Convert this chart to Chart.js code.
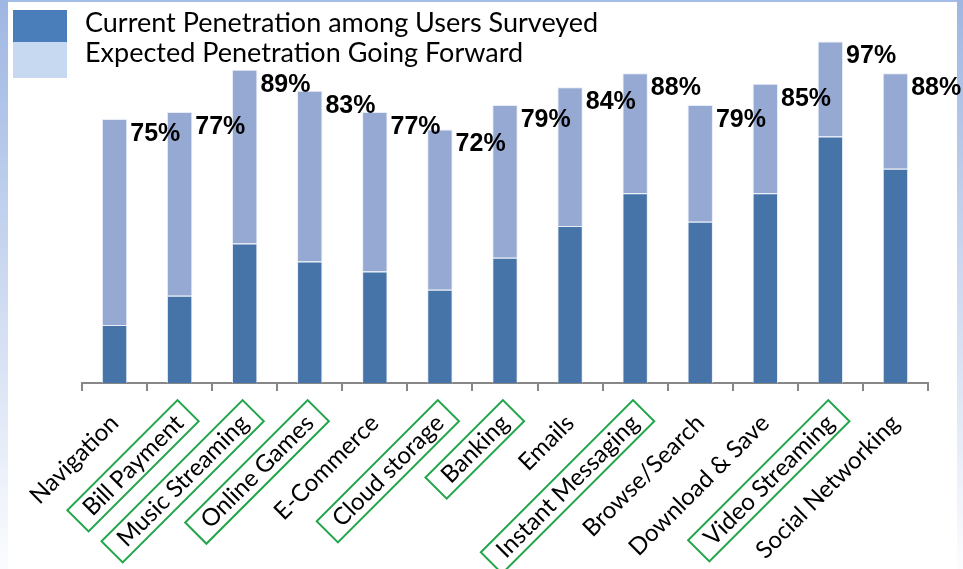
<!DOCTYPE html>
<html>
<head>
<meta charset="utf-8">
<script src="https://cdn.jsdelivr.net/npm/chart.js@4.4.0/dist/chart.umd.min.js"></script>
<style>
  html, body { margin: 0; padding: 0; }
  body { width: 963px; height: 569px; position: relative; overflow: hidden; background: #fff; font-family: Lato, sans-serif; }
  .edge-top { position: absolute; left: 0; top: 0; width: 963px; height: 2px; background: #a4bce6; }
  .edge-left { position: absolute; left: 0; top: 0; width: 8px; height: 569px; background: linear-gradient(#9fb7e3, #fbfcfe); }
  .edge-right { position: absolute; right: 0; top: 0; width: 6px; height: 569px; background: linear-gradient(#9fb7e3, #fbfcfe); }
  #chart { position: absolute; left: 0; top: 0; }
  .sw { position: absolute; left: 13px; width: 54px; }
  .sw.cur { top: 10px; height: 32px; background: #4a7ebb; }
  .sw.exp { top: 42px; height: 36px; background: #c6d9f0; }
  .lg { position: absolute; left: 85px; font-size: 27px; line-height: 32px; color: #000; white-space: nowrap; }
</style>
</head>
<body>
<div class="edge-top"></div>
<div class="edge-left"></div>
<div class="edge-right"></div>
<canvas id="chart" width="963" height="569"></canvas>
<div class="sw cur"></div>
<div class="sw exp"></div>
<div class="lg" id="lg1" style="top:6px"></div>
<div class="lg" id="lg2" style="top:36px"></div>
<script>
var seriesNames = ['Current Penetration among Users Surveyed', 'Expected Penetration Going Forward'];
var categories = ['Navigation', 'Bill Payment', 'Music Streaming', 'Online Games', 'E-Commerce',
     'Cloud storage', 'Banking', 'Emails', 'Instant Messaging', 'Browse/Search',
     'Download & Save', 'Video Streaming', 'Social Networking'];
// current penetration (dark part of the bar)
var currentPct = [16.5, 24.8, 39.6, 34.5, 31.7, 26.5, 35.6, 44.6, 53.9, 45.8, 53.9, 70, 60.9];
// expected penetration going forward = full bar height, printed as labels
var totalPct = [75, 77, 89, 83, 77, 72, 79, 84, 88, 79, 85, 97, 88];
// labels that have a green box drawn round them
var boxedLabels = ['Bill Payment', 'Music Streaming', 'Online Games', 'Cloud storage',
     'Banking', 'Instant Messaging', 'Video Streaming'];

var expectedPct = totalPct.map(function (t, i) { return +(t - currentPct[i]).toFixed(1); });

document.getElementById('lg1').textContent = seriesNames[0];
document.getElementById('lg2').textContent = seriesNames[1];

var totalLabels = {
     id: 'totalLabels',
     afterDatasetsDraw: function (chart) {
          var ctx = chart.ctx;
          var meta = chart.getDatasetMeta(1);
          ctx.save();
          ctx.font = 'bold 25px "Liberation Sans", Arial, sans-serif';
          ctx.fillStyle = '#000';
          ctx.textAlign = 'left';
          ctx.textBaseline = 'middle';
          meta.data.forEach(function (bar, i) {
               ctx.fillText(totalPct[i] + '%', bar.x + bar.width / 2 + 3, bar.y + 15);
          });
          ctx.restore();
     }
};

// green frames round some tick labels, placed the way chart.js places rotated labels
var labelBoxes = {
     id: 'labelBoxes',
     afterDraw: function (chart) {
          var scale = chart.scales.x;
          var ctx = chart.ctx;
          var tickOpts = scale.options.ticks;
          var font = Chart.helpers.toFont(tickOpts.font);
          var rot = Math.PI / 4;
          var y0 = scale.top + scale.options.grid.tickLength + tickOpts.padding;
          ctx.save();
          ctx.font = font.string;
          ctx.strokeStyle = '#22a64b';
          ctx.lineWidth = 2;
          categories.forEach(function (c, i) {
               if (boxedLabels.indexOf(c) < 0) return;
               var w = ctx.measureText(c).width;
               var x0 = scale.getPixelForTick(i) - font.lineHeight / 2 * Math.sin(rot);
               ctx.save();
               ctx.translate(x0, y0);
               ctx.rotate(-rot);
               var cy = font.lineHeight / 2;
               ctx.strokeRect(-w - 13, cy - 15, w + 25, 30);
               ctx.restore();
          });
          ctx.restore();
     }
};

var config = {
     type: 'bar',
     data: {
          labels: categories,
          datasets: [{
               label: seriesNames[0],
               data: currentPct,
               backgroundColor: '#4674a9',
               borderColor: 'rgba(220,230,243,0.7)',
               borderWidth: 1
          }, {
               label: seriesNames[1],
               data: expectedPct,
               backgroundColor: '#95a9d2',
               borderColor: 'rgba(220,230,243,0.7)',
               borderWidth: 1
          }]
     },
     options: {
          responsive: false,
          animation: false,
          layout: { padding: { left: 82, right: 35, top: 31, bottom: 0 } },
          categoryPercentage: 1,
          barPercentage: 0.39,
          plugins: {
               legend: { display: false },
               tooltip: { enabled: false }
          },
          scales: {
               x: {
                    stacked: true,
                    grid: { display: true, drawOnChartArea: false, tickLength: 8, color: '#878787', lineWidth: 2 },
                    border: { display: true, color: '#878787', width: 2 },
                    ticks: {
                         autoSkip: false,
                         minRotation: 45,
                         maxRotation: 45,
                         padding: 18,
                         color: '#000',
                         font: { family: 'Lato', size: 24 }
                    },
                    afterFit: function (s) { s.height = 186; }
               },
               y: {
                    stacked: true,
                    display: false,
                    min: 0,
                    max: 100
               }
          }
     },
     plugins: [totalLabels, labelBoxes]
};

var ctx = document.getElementById('chart').getContext('2d');
window.penChart = new Chart(ctx, config);
</script>
</body>
</html>
